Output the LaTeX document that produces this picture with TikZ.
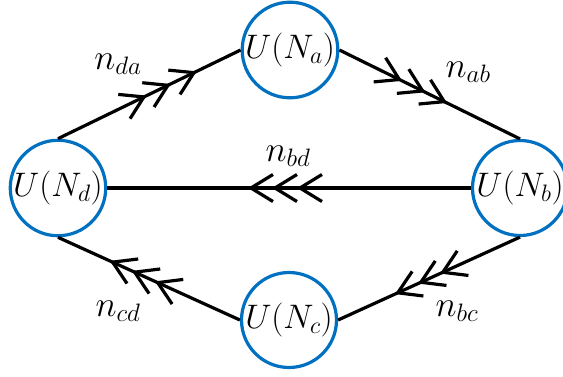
\RequirePackage{fix-cm}
\documentclass[tikz,border=0pt]{standalone}
\usetikzlibrary{arrows.meta,decorations.markings}
\definecolor{ublue}{RGB}{0,112,192}

\begin{document}
\begin{tikzpicture}[
	x=1pt, y=-1pt,
	unit/.style={circle, draw=ublue, line width=3.2pt, minimum size=95pt, inner sep=0pt,
		font=\fontsize{34}{40}\selectfont},
	rate/.style={font=\fontsize{36}{42}\selectfont},
	flow/.style args={#1/#2/#3}{draw, line width=3.2pt, postaction={decorate, decoration={markings,
		mark=at position #1pt with {\arrow{Straight Barb[length=22pt,width=27pt]}},
		mark=at position #2pt with {\arrow{Straight Barb[length=22pt,width=27pt]}},
		mark=at position #3pt with {\arrow{Straight Barb[length=22pt,width=27pt]}}}}}
]
\useasboundingbox (0,0) rectangle (563,376);

%% Draw units and flows
\node[unit] (a) at (290,50) {$U(N_a)$};
\node[unit] (b) at (520,188) {$U(N_b)$};
\node[unit] (c) at (289,320) {$U(N_c)$};
\node[unit] (d) at (58,188) {$U(N_d)$};

\path (d.north) edge [flow=98.6/125.3/154.2] (a.west)
	(a.east) edge [flow=69.9/95.8/120] (b.north)
	(b.west) edge [flow=174/199/223] (d.east)
	(b.south) edge [flow=87.9/112/137.4] (c.east)
	(c.west) edge [flow=93.4/118.7/142.9] (d.south)
	;

\node[rate] (nda) at (118,64) {$n_{da}$};
\node[rate] (nab) at (468,72) {$n_{ab}$};
\node[rate] (nbd) at (288,156) {$n_{bd}$};
\node[rate] (nbc) at (457,311) {$n_{bc}$};
\node[rate] (ncd) at (118,311) {$n_{cd}$};

\end{tikzpicture}
\end{document}
